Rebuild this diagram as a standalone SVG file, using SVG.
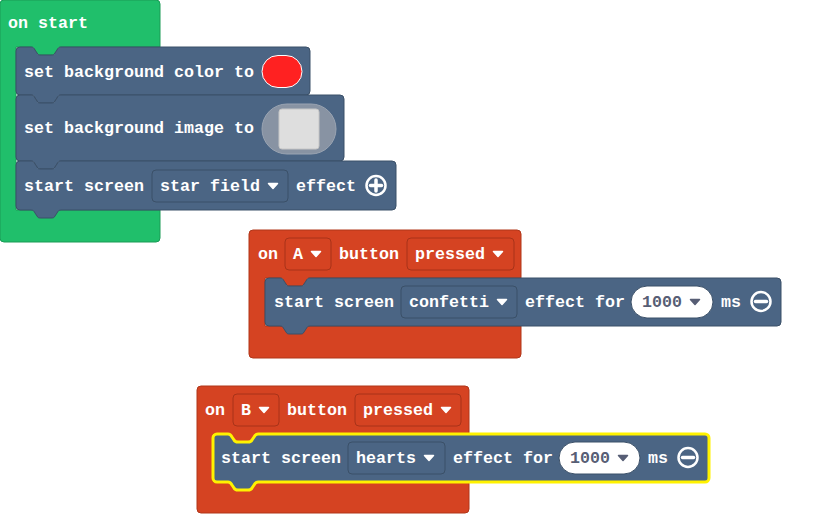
<svg xmlns="http://www.w3.org/2000/svg" width="833" height="514" viewBox="0 0 833 514">
<style>
.t{font-family:"Liberation Mono","DejaVu Sans Mono",monospace;font-weight:bold;font-size:16.67px;fill:#fff}
.tn{font-family:"Liberation Mono","DejaVu Sans Mono",monospace;font-weight:bold;font-size:16.67px;fill:#575e75}
.green{fill:#20bf6b;stroke:#1a9b57;stroke-width:1}
.red{fill:#d54322;stroke:#b03619;stroke-width:1}
.blue{fill:#4b6584;stroke:#3b5068;stroke-width:1}
.sel{fill:#4b6584;stroke:#fff200;stroke-width:3;stroke-linejoin:round}
.ddb{fill:#4b6584;stroke:#3b5068;stroke-width:1}
.ddr{fill:#d54322;stroke:#a83319;stroke-width:1}
.num{fill:#fff;stroke:#3b5068;stroke-width:1}
.arw{fill:#fff;stroke:#fff;stroke-width:1.5;stroke-linejoin:round}
.arg{fill:#575e75;stroke:#575e75;stroke-width:1.5;stroke-linejoin:round}
.ic{fill:none;stroke:#fff;stroke-width:2.5}
.icl{stroke:#fff;stroke-width:3.5;stroke-linecap:round}
</style>
<g id="on-start">
<path class="green" d="M0,4 a4,4 0 0 1 4,-4 H156 a4,4 0 0 1 4,4 V47 H61 c -2,0 -3,1 -4,3 l -2,3 c -1,2 -2,2 -4,2 h -10 c -2,0 -3,0 -4,-2 l -2,-3 c -1,-2 -2,-3 -4,-3 H16 V210 H160 V238 a4,4 0 0 1 -4,4 H4 a4,4 0 0 1 -4,-4 Z"/>
<text class="t" x="8" y="28">on start</text>
</g>
<g id="set-bg-color">
<path class="blue" d="M16,51 a4,4 0 0 1 4,-4 H31 c 2,0 3,1 4,3 l 2,3 c 1,2 2,2 4,2 h 10 c 2,0 3,0 4,-2 l 2,-3 c 1,-2 2,-3 4,-3 H306 a4,4 0 0 1 4,4 V91 a4,4 0 0 1 -4,4 H61 c -2,0 -3,1 -4,3 l -2,3 c -1,2 -2,2 -4,2 h -10 c -2,0 -3,0 -4,-2 l -2,-3 c -1,-2 -2,-3 -4,-3 H20 a4,4 0 0 1 -4,-4 Z"/>
<text class="t" x="24" y="76.5">set background color to</text>
<rect x="262" y="55.5" width="40" height="32" rx="16" fill="#ff2121" stroke="#fff" stroke-width="1"/>
</g>
<g id="set-bg-image">
<path class="blue" d="M16,99 a4,4 0 0 1 4,-4 H31 c 2,0 3,1 4,3 l 2,3 c 1,2 2,2 4,2 h 10 c 2,0 3,0 4,-2 l 2,-3 c 1,-2 2,-3 4,-3 H340 a4,4 0 0 1 4,4 V157 a4,4 0 0 1 -4,4 H61 c -2,0 -3,1 -4,3 l -2,3 c -1,2 -2,2 -4,2 h -10 c -2,0 -3,0 -4,-2 l -2,-3 c -1,-2 -2,-3 -4,-3 H20 a4,4 0 0 1 -4,-4 Z"/>
<text class="t" x="24" y="133">set background image to</text>
<rect x="262" y="104" width="74" height="50" rx="25" fill="#8893a3" stroke="#9aa4b2" stroke-width="1"/>
<rect x="279" y="109" width="40" height="40" rx="3" fill="#dedede" stroke="#c6c6c6" stroke-width="1"/>
</g>
<g id="start-star-field">
<path class="blue" d="M16,165 a4,4 0 0 1 4,-4 H31 c 2,0 3,1 4,3 l 2,3 c 1,2 2,2 4,2 h 10 c 2,0 3,0 4,-2 l 2,-3 c 1,-2 2,-3 4,-3 H392 a4,4 0 0 1 4,4 V206 a4,4 0 0 1 -4,4 H61 c -2,0 -3,1 -4,3 l -2,3 c -1,2 -2,2 -4,2 h -10 c -2,0 -3,0 -4,-2 l -2,-3 c -1,-2 -2,-3 -4,-3 H20 a4,4 0 0 1 -4,-4 Z"/>
<text class="t" x="24" y="190.5">start screen</text>
<rect class="ddb" x="152" y="170" width="136" height="32" rx="4"/>
<text class="t" x="160" y="190.5">star field</text>
<path class="arw" d="M268.5,183.5 h9 l-4.5,5 z"/>
<text class="t" x="296" y="190.5">effect</text>
<circle class="ic" cx="376" cy="185.5" r="9.5"/>
<line class="icl" x1="376" y1="180" x2="376" y2="191"/>
<line class="icl" x1="370.5" y1="185.5" x2="381.5" y2="185.5"/>
</g>
<g id="on-a-pressed">
<path class="red" d="M249,234 a4,4 0 0 1 4,-4 H517 a4,4 0 0 1 4,4 V278 H310 c -2,0 -3,1 -4,3 l -2,3 c -1,2 -2,2 -4,2 h -10 c -2,0 -3,0 -4,-2 l -2,-3 c -1,-2 -2,-3 -4,-3 H265 V326 H521 V354 a4,4 0 0 1 -4,4 H253 a4,4 0 0 1 -4,-4 Z"/>
<text class="t" x="258" y="258.5">on</text>
<rect class="ddr" x="285" y="238" width="46" height="32" rx="4"/>
<text class="t" x="293" y="258.5">A</text>
<path class="arw" d="M311.5,251.5 h9 l-4.5,5 z"/>
<text class="t" x="339" y="258.5">button</text>
<rect class="ddr" x="407" y="238" width="107" height="32" rx="4"/>
<text class="t" x="415" y="258.5">pressed</text>
<path class="arw" d="M493.5,251.5 h9 l-4.5,5 z"/>
</g>
<g id="start-confetti">
<path class="blue" d="M265,282 a4,4 0 0 1 4,-4 H280 c 2,0 3,1 4,3 l 2,3 c 1,2 2,2 4,2 h 10 c 2,0 3,0 4,-2 l 2,-3 c 1,-2 2,-3 4,-3 H777 a4,4 0 0 1 4,4 V322 a4,4 0 0 1 -4,4 H310 c -2,0 -3,1 -4,3 l -2,3 c -1,2 -2,2 -4,2 h -10 c -2,0 -3,0 -4,-2 l -2,-3 c -1,-2 -2,-3 -4,-3 H269 a4,4 0 0 1 -4,-4 Z"/>
<text class="t" x="274" y="306.5">start screen</text>
<rect class="ddb" x="401" y="286" width="116" height="32" rx="4"/>
<text class="t" x="409" y="306.5">confetti</text>
<path class="arw" d="M497.5,299.5 h9 l-4.5,5 z"/>
<text class="t" x="525" y="306.5">effect for</text>
<rect class="num" x="631" y="286" width="82" height="32" rx="16"/>
<text class="tn" x="642" y="306.5">1000</text>
<path class="arg" d="M690.5,299.5 h9 l-4.5,5 z"/>
<text class="t" x="721" y="306.5">ms</text>
<circle class="ic" cx="761" cy="301.5" r="9.5"/>
<line class="icl" x1="755.5" y1="301.5" x2="766.5" y2="301.5"/>
</g>
<g id="on-b-pressed">
<path class="red" d="M197,390 a4,4 0 0 1 4,-4 H465 a4,4 0 0 1 4,4 V434 H258 c -2,0 -3,1 -4,3 l -2,3 c -1,2 -2,2 -4,2 h -10 c -2,0 -3,0 -4,-2 l -2,-3 c -1,-2 -2,-3 -4,-3 H213 V482 H469 V509 a4,4 0 0 1 -4,4 H201 a4,4 0 0 1 -4,-4 Z"/>
<text class="t" x="205" y="414.5">on</text>
<rect class="ddr" x="233" y="394" width="46" height="32" rx="4"/>
<text class="t" x="241" y="414.5">B</text>
<path class="arw" d="M259.5,407.5 h9 l-4.5,5 z"/>
<text class="t" x="287" y="414.5">button</text>
<rect class="ddr" x="355" y="394" width="106" height="32" rx="4"/>
<text class="t" x="363" y="414.5">pressed</text>
<path class="arw" d="M441.5,407.5 h9 l-4.5,5 z"/>
</g>
<g id="start-hearts">
<path class="sel" d="M213,438 a4,4 0 0 1 4,-4 H228 c 2,0 3,1 4,3 l 2,3 c 1,2 2,2 4,2 h 10 c 2,0 3,0 4,-2 l 2,-3 c 1,-2 2,-3 4,-3 H705 a4,4 0 0 1 4,4 V478 a4,4 0 0 1 -4,4 H258 c -2,0 -3,1 -4,3 l -2,3 c -1,2 -2,2 -4,2 h -10 c -2,0 -3,0 -4,-2 l -2,-3 c -1,-2 -2,-3 -4,-3 H217 a4,4 0 0 1 -4,-4 Z"/>
<text class="t" x="221" y="462.5">start screen</text>
<rect class="ddb" x="348" y="442" width="97" height="32" rx="4"/>
<text class="t" x="356" y="462.5">hearts</text>
<path class="arw" d="M424.5,455.5 h9 l-4.5,5 z"/>
<text class="t" x="453" y="462.5">effect for</text>
<rect class="num" x="559" y="442" width="81" height="32" rx="16"/>
<text class="tn" x="570" y="462.5">1000</text>
<path class="arg" d="M618.5,455.5 h9 l-4.5,5 z"/>
<text class="t" x="648" y="462.5">ms</text>
<circle class="ic" cx="688" cy="457.5" r="9.5"/>
<line class="icl" x1="682.5" y1="457.5" x2="693.5" y2="457.5"/>
</g>
<g id="connectors"></g>
</svg>
